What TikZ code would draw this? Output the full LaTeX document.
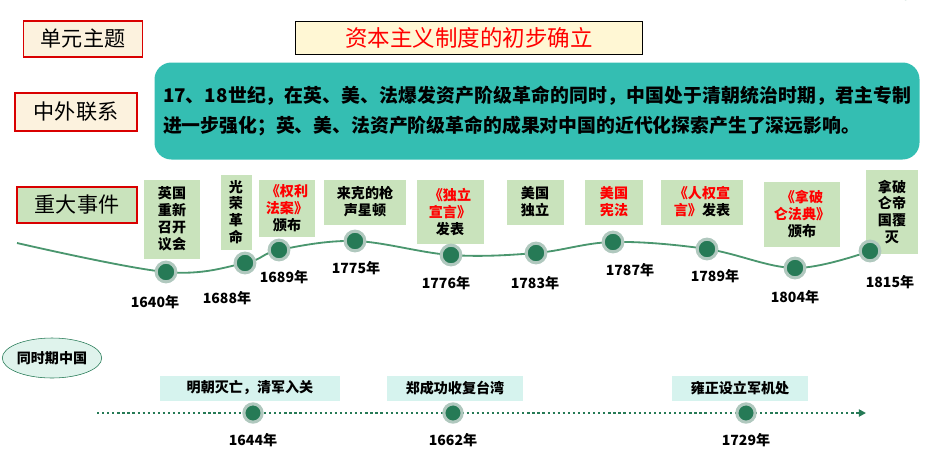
\documentclass[tikz,border=0pt]{standalone}
\usepackage{fontspec}
\setmainfont{Noto Sans CJK SC}
\XeTeXlinebreaklocale "zh"
\XeTeXlinebreakskip=0pt plus 2pt
\usetikzlibrary{shapes.geometric,arrows.meta,positioning}
\definecolor{headfill}{RGB}{252,242,222}
\definecolor{titlefill}{RGB}{255,247,212}
\definecolor{tealfill}{RGB}{52,190,178}
\definecolor{evfill}{RGB}{201,227,188}
\definecolor{dotgreen}{RGB}{38,122,86}
\definecolor{halo}{RGB}{176,200,190}
\definecolor{linegreen}{RGB}{74,150,110}
\definecolor{cnfill}{RGB}{214,243,238}
\definecolor{ellfill}{RGB}{223,243,236}
\tikzset{
  head/.style={draw=red!85!black,line width=1.3pt,fill=headfill,font=\fontsize{15}{17}\selectfont,inner sep=0pt},
  event/.style={fill=evfill,align=center,font=\bfseries\fontsize{10}{12}\selectfont,inner sep=2pt},
  china/.style={fill=cnfill,font=\bfseries\fontsize{10}{12}\selectfont,inner sep=0pt},
  year/.style={font=\bfseries\fontsize{10}{12}\selectfont},
  dot/.style={circle,fill=dotgreen,draw=halo,line width=2.2pt,minimum size=14pt,inner sep=0pt}
}
\newcommand{\rd}[1]{\textcolor{red}{#1}}
\begin{document}
\begin{tikzpicture}[x=0.025cm,y=-0.025cm]
  \useasboundingbox (0,0) rectangle (926,462);
  % corner arc
  \draw[dotgreen,line width=2pt] (905,0) arc[start angle=180,end angle=230,radius=30];
  % headings
  \node[head,minimum width=119*0.025cm,minimum height=36*0.025cm] (unit) at (83,39) {单元主题};
  \node[draw,fill=titlefill,text=red,font=\fontsize{16}{18}\selectfont,minimum width=347*0.025cm,minimum height=33*0.025cm,inner sep=0pt] (title) at (469,38) {资本主义制度的初步确立};
  \node[head,minimum width=122*0.025cm,minimum height=38*0.025cm] (link) at (76,112) {中外联系};
  \node[fill=tealfill,rounded corners=12pt,minimum width=765*0.025cm,minimum height=97*0.025cm,inner sep=0pt] (summary) at (537,111) {};
  \node[text width=748*0.025cm,font=\bfseries\fontsize{13.4}{21.5}\selectfont,align=justify] at (summary) {17、18世纪，在英、美、法爆发资产阶级革命的同时，中国处于清朝统治时期，君主专制进一步强化；英、美、法资产阶级革命的成果对中国的近代化探索产生了深远影响。};
  \node[head,fill=evfill,minimum width=120*0.025cm,minimum height=36*0.025cm] (major) at (77,205) {重大事件};

  % event boxes
  \node[event,minimum width=56*0.025cm,minimum height=79*0.025cm] (e1640) at (172,219) {英国\\重新\\召开\\议会};
  \node[event,minimum width=31*0.025cm,minimum height=75*0.025cm,inner sep=1pt] (e1688) at (236,212) {光\\荣\\革\\命};
  \node[event,minimum width=56*0.025cm,minimum height=57*0.025cm] (e1689) at (287,208) {\rd{《权利}\\\rd{法案》}\\颁布};
  \node[event,minimum width=82*0.025cm,minimum height=45*0.025cm] (e1775) at (365,202) {来克的枪\\声星顿};
  \node[event,minimum width=67*0.025cm,minimum height=64*0.025cm] (e1776) at (450,212) {\rd{《独立}\\\rd{宣言》}\\发表};
  \node[event,minimum width=57*0.025cm,minimum height=45*0.025cm] (e1783) at (535,202) {美国\\独立};
  \node[event,minimum width=58*0.025cm,minimum height=45*0.025cm] (e1787) at (614,202) {\rd{美国}\\\rd{宪法}};
  \node[event,minimum width=82*0.025cm,minimum height=45*0.025cm] (e1789) at (702,202) {\rd{《人权宣}\\\rd{言》}发表};
  \node[event,minimum width=76*0.025cm,minimum height=65*0.025cm] (e1804) at (802,214) {\rd{《拿破}\\\rd{仑法典》}\\颁布};
  \node[event,minimum width=52*0.025cm,minimum height=84*0.025cm] (e1815) at (892,212) {拿破\\仑帝\\国覆\\灭};

  % timeline
  \coordinate (start) at (17,243);
  \foreach \y/\px/\py in {1640/166/272,1688/245/263,1689/279/250,1775/355/241,1776/451/255,1783/536/253,1787/613/242,1789/707/249,1804/795/268,1815/870/251}
    \coordinate (p\y) at (\px,\py);
  \draw[linegreen,line width=1.3pt] plot[smooth,tension=0.6] coordinates {(start) (p1640) (p1688) (p1689) (p1775) (p1776) (p1783) (p1787) (p1789) (p1804) (p1815)};
  \foreach \y in {1640,1688,1689,1775,1776,1783,1787,1789,1804,1815}
    \node[dot] (d\y) at (p\y) {};
  \foreach \y/\px/\py in {1640/155/302,1688/227/298,1689/284/277,1775/356/268,1776/446/283,1783/535/283,1787/630/270,1789/715/276,1804/795/297,1815/890/282}
    \node[year] (y\y) at (\px,\py) {\y 年};

  % China
  \node[ellipse,draw=dotgreen,fill=ellfill,minimum width=96*0.025cm,minimum height=40*0.025cm,inner sep=0pt,font=\bfseries\fontsize{10}{12}\selectfont] (cn) at (52,358) {同时期中国};
  \node[china,minimum width=180*0.025cm,minimum height=25*0.025cm] (c1644) at (250,388) {明朝灭亡，清军入关};
  \node[china,minimum width=136*0.025cm,minimum height=25*0.025cm] (c1662) at (455,388) {郑成功收复台湾};
  \node[china,minimum width=136*0.025cm,minimum height=25*0.025cm] (c1729) at (740,388) {雍正设立军机处};
  \coordinate (ls) at (97,413);
  \coordinate (le) at (866,413);
  \draw[dotgreen,line width=1.6pt,dotted,-{Triangle[length=5pt,width=5pt]}] (ls) -- (le);
  \foreach \y/\px in {1644/253,1662/453,1729/746}{
    \node[dot,minimum size=13pt] (s\y) at (\px,413) {};
    \node[year] at (\px,440) {\y 年};
  }
\end{tikzpicture}
\end{document}
